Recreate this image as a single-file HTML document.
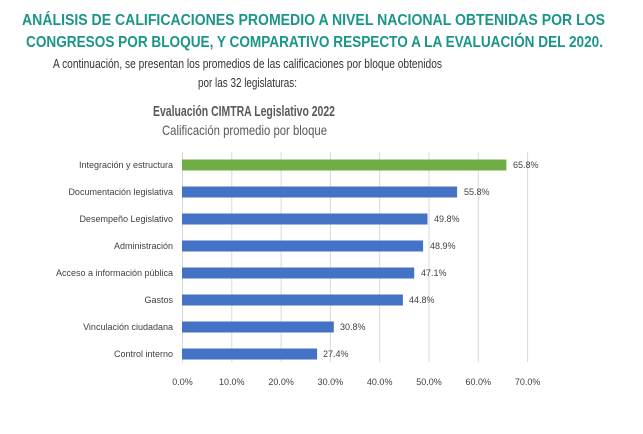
<!DOCTYPE html>
<html><head><meta charset="utf-8"><style>html,body{margin:0;padding:0;background:#fff}svg{display:block}</style></head>
<body>
<svg width="643" height="434" viewBox="0 0 643 434" xmlns="http://www.w3.org/2000/svg" font-family="Liberation Sans, sans-serif">
<rect width="643" height="434" fill="#fff"/>
<g fill="#1a9688" font-weight="bold" font-size="16">
<text x="22" y="25" textLength="583" lengthAdjust="spacingAndGlyphs">ANÁLISIS DE CALIFICACIONES PROMEDIO A NIVEL NACIONAL OBTENIDAS POR LOS</text>
<text x="26" y="47" textLength="577" lengthAdjust="spacingAndGlyphs">CONGRESOS POR BLOQUE, Y COMPARATIVO RESPECTO A LA EVALUACIÓN DEL 2020.</text>
</g>
<g fill="#333" font-size="13">
<text x="53" y="68" textLength="389" lengthAdjust="spacingAndGlyphs">A continuación, se presentan los promedios de las calificaciones por bloque obtenidos</text>
<text x="198" y="87" textLength="99" lengthAdjust="spacingAndGlyphs">por las 32 legislaturas:</text>
</g>
<text x="153" y="116" fill="#595959" font-weight="bold" font-size="15" textLength="182" lengthAdjust="spacingAndGlyphs">Evaluación CIMTRA Legislativo 2022</text>
<text x="162" y="135" fill="#595959" font-size="14" textLength="165" lengthAdjust="spacingAndGlyphs">Calificación promedio por bloque</text>
<g stroke="#d9d9d9" stroke-width="1">
<line x1="182.5" y1="152" x2="182.5" y2="362"/><line x1="231.8" y1="152" x2="231.8" y2="362"/>
<line x1="281.1" y1="152" x2="281.1" y2="362"/><line x1="330.4" y1="152" x2="330.4" y2="362"/>
<line x1="379.7" y1="152" x2="379.7" y2="362"/><line x1="429" y1="152" x2="429" y2="362"/>
<line x1="478.3" y1="152" x2="478.3" y2="362"/><line x1="527.6" y1="152" x2="527.6" y2="362"/>
</g>
<g fill="#4472c4">
<rect x="182" y="159.5" width="324.4" height="11" fill="#70ad47"/>
<rect x="182" y="186.5" width="275.1" height="11"/>
<rect x="182" y="213.5" width="245.5" height="11"/>
<rect x="182" y="240.5" width="241.1" height="11"/>
<rect x="182" y="267.5" width="232.2" height="11"/>
<rect x="182" y="294.5" width="220.9" height="11"/>
<rect x="182" y="321.5" width="151.8" height="11"/>
<rect x="182" y="348.5" width="135.1" height="11"/>
</g>
<g fill="#404040" font-size="9" text-anchor="end">
<text x="173" y="168">Integración y estructura</text>
<text x="173" y="195">Documentación legislativa</text>
<text x="173" y="222">Desempeño Legislativo</text>
<text x="173" y="249">Administración</text>
<text x="173" y="276">Acceso a información pública</text>
<text x="173" y="303">Gastos</text>
<text x="173" y="330">Vinculación ciudadana</text>
<text x="173" y="357">Control interno</text>
</g>
<g fill="#404040" font-size="9">
<text x="513" y="168">65.8%</text>
<text x="464" y="195">55.8%</text>
<text x="434" y="222">49.8%</text>
<text x="430" y="249">48.9%</text>
<text x="421" y="276">47.1%</text>
<text x="409" y="303">44.8%</text>
<text x="340" y="330">30.8%</text>
<text x="323" y="357">27.4%</text>
</g>
<g fill="#404040" font-size="9" text-anchor="middle">
<text x="182.5" y="385">0.0%</text><text x="231.8" y="385">10.0%</text><text x="281.1" y="385">20.0%</text>
<text x="330.4" y="385">30.0%</text><text x="379.7" y="385">40.0%</text><text x="429" y="385">50.0%</text>
<text x="478.3" y="385">60.0%</text><text x="527.6" y="385">70.0%</text>
</g>
</svg>
</body></html>
